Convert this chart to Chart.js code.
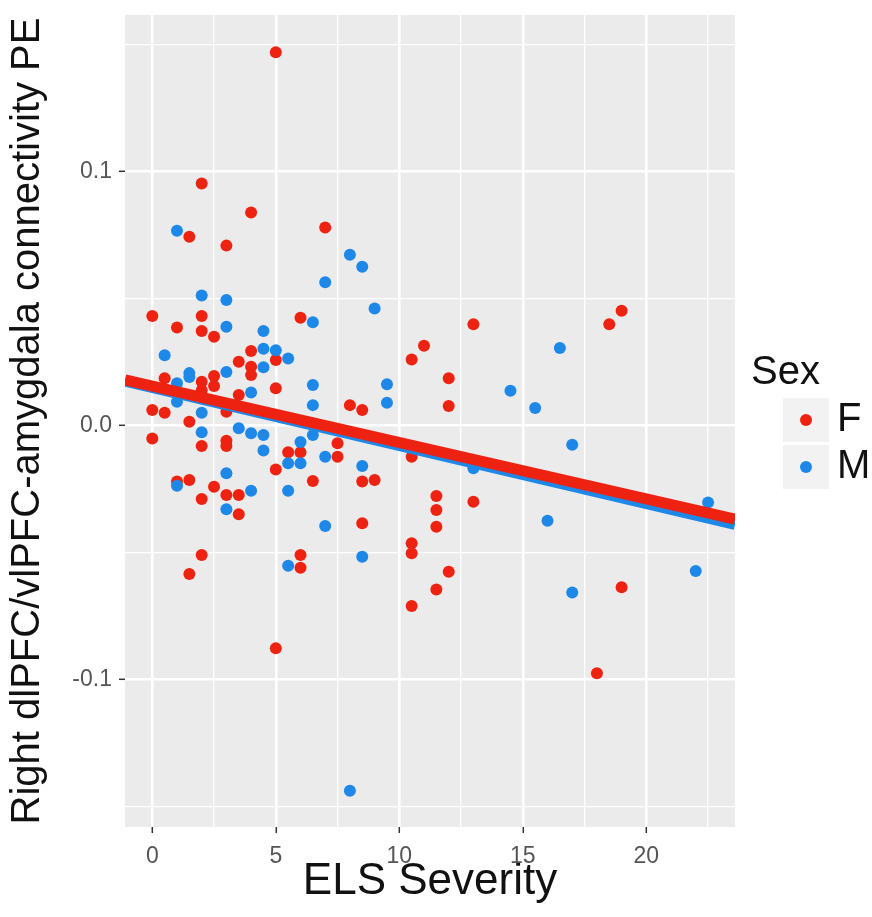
<!DOCTYPE html>
<html>
<head>
<meta charset="utf-8">
<script src="https://cdn.jsdelivr.net/npm/chart.js@4"></script>
<style>
  html, body { margin: 0; padding: 0; background: #fff; }
  #wrap { width: 872px; height: 917px; position: relative; }
</style>
</head>
<body>
<div id="wrap"><canvas id="els"></canvas></div>
<script>
// ELS severity (x) vs connectivity PE (y), female
const femaleX = [5, 2, 4, 1.5, 3, 7, 0, 2, 1, 2, 2.5, 6, 4, 3.5, 5, 4, 4, 2.5, 0.5, 2,
  2.5, 2, 3.5, 5, 8, 8.5, 10.5, 11, 12, 12, 13, 18.5, 19, 0, 0.5, 1.5, 3, 0, 2, 3,
  3, 5.5, 6, 7.5, 7.5, 5, 6.5, 8.5, 9, 1, 1.5, 2.5, 2, 3, 3.5, 3.5, 8.5, 2, 1.5, 6,
  6, 10.5, 11.5, 11.5, 11.5, 13, 10.5, 10.5, 12, 11.5, 10.5, 19, 18, 5];
const femaleY = [0.147, 0.0954, 0.0839, 0.0744, 0.0709, 0.078, 0.0432, 0.0432, 0.0387, 0.0373,
  0.035, 0.0425, 0.0294, 0.0252, 0.0259, 0.0232, 0.02, 0.0196, 0.0187, 0.0173,
  0.0156, 0.014, 0.0121, 0.0147, 0.0081, 0.0062, 0.0261, 0.0315, 0.0187, 0.0078,
  0.0399, 0.0399, 0.0453, 0.0062, 0.0051, 0.0016, 0.0055, -0.005, -0.008, -0.0059,
  -0.008, -0.0105, -0.0105, -0.0069, -0.0122, -0.0172, -0.0218, -0.022, -0.0214, -0.022,
  -0.0214, -0.024, -0.0289, -0.0273, -0.0273, -0.0349, -0.0384, -0.0509, -0.0584, -0.0509,
  -0.0559, -0.0122, -0.0277, -0.0332, -0.0398, -0.0299, -0.0463, -0.0502, -0.0575, -0.0645,
  -0.071, -0.0636, -0.0975, -0.0876];

// male
const maleX = [1, 8, 8.5, 7, 2, 3, 9, 6.5, 3, 4.5, 4.5, 5, 0.5, 5.5, 4.5, 3, 1.5, 1.5, 1, 6.5,
  9.5, 4, 1, 6.5, 9.5, 2, 16.5, 14.5, 15.5, 3.5, 2, 4, 4.5, 6.5, 6, 4.5, 7, 5.5, 6, 8.5,
  13, 17, 3, 1, 4, 5.5, 3, 7, 5.5, 8.5, 16, 22.5, 17, 22, 8];
const maleY = [0.0768, 0.0673, 0.0626, 0.0565, 0.0513, 0.0495, 0.0461, 0.0407, 0.039, 0.0373,
  0.0303, 0.0297, 0.0277, 0.0265, 0.023, 0.0211, 0.0207, 0.0192, 0.0167, 0.016,
  0.0163, 0.0131, 0.0094, 0.0081, 0.009, 0.0051, 0.0306, 0.0138, 0.007, -0.001,
  -0.0026, -0.003, -0.0037, -0.0037, -0.0064, -0.0098, -0.0122, -0.0148, -0.0148, -0.0159,
  -0.0168, -0.0075, -0.0187, -0.0236, -0.0256, -0.0256, -0.0329, -0.0395, -0.0551, -0.0516,
  -0.0374, -0.0302, -0.0657, -0.0572, -0.1437];

// fitted lines (ends read at the panel edges)
const fitX = [-1.105, 23.59];
const fitF = [0.0180, -0.0368];
const fitM = [0.0176, -0.0389];

const xMajor = [0, 5, 10, 15, 20];
const xMinor = [2.5, 7.5, 12.5, 17.5, 22.5];
const yMajor = [-0.1, 0, 0.1];
const yMinor = [-0.15, -0.05, 0.05, 0.15];
const sexLabels = ['F', 'M'];

const RED = '#EE2211';
const BLUE = '#1E88E8';
const FONT = '"Liberation Sans", Arial, Helvetica, sans-serif';

const toPts = (xs, ys) => xs.map((x, i) => ({ x: x, y: ys[i] }));

const panelBg = {
  id: 'panelBg',
  beforeDraw(chart) {
    const { ctx, chartArea: a } = chart;
    ctx.save();
    ctx.fillStyle = '#EBEBEB';
    ctx.fillRect(a.left, a.top, a.right - a.left, a.bottom - a.top);
    ctx.restore();
  }
};

// ggplot-style legend at the right
const sexLegend = {
  id: 'sexLegend',
  afterDraw(chart) {
    const ctx = chart.ctx;
    const cols = [RED, BLUE];
    ctx.save();
    ctx.font = '40px ' + FONT;
    ctx.textBaseline = 'middle';
    ctx.fillStyle = '#111';
    ctx.fillText('Sex', 751, 373);
    sexLabels.forEach((lab, i) => {
      const y = 398 + i * 47;
      ctx.fillStyle = '#F2F2F2';
      ctx.fillRect(783, y, 46, 44);
      ctx.fillStyle = cols[i];
      ctx.beginPath();
      ctx.arc(806, y + 22, 6, 0, Math.PI * 2);
      ctx.fill();
      ctx.fillStyle = '#111';
      ctx.fillText(lab, 837, y + 22);
    });
    ctx.restore();
  }
};

const gridFor = (major) => ({
  color: '#FFFFFF',
  lineWidth: c => (c.tick && major.includes(c.tick.value)) ? 2.6 : 1.3,
  tickColor: c => (c.tick && major.includes(c.tick.value)) ? '#333333' : 'rgba(0,0,0,0)',
  tickLength: 6,
  tickWidth: 1.5
});

// lower "order" is drawn on top: F fit, M fit, then M points, F points
new Chart(document.getElementById('els'), {
  type: 'scatter',
  data: {
    datasets: [
      { label: 'F', order: 4, data: toPts(femaleX, femaleY), backgroundColor: RED, borderWidth: 0, pointRadius: 6 },
      { label: 'M', order: 3, data: toPts(maleX, maleY), backgroundColor: BLUE, borderWidth: 0, pointRadius: 6 },
      { type: 'line', label: 'M fit', order: 2, data: toPts(fitX, fitM), borderColor: BLUE, borderWidth: 11,
        pointRadius: 0, fill: false, borderCapStyle: 'butt' },
      { type: 'line', label: 'F fit', order: 1, data: toPts(fitX, fitF), borderColor: RED, borderWidth: 11,
        pointRadius: 0, fill: false, borderCapStyle: 'butt' }
    ]
  },
  options: {
    responsive: true,
    maintainAspectRatio: false,
    animation: false,
    layout: { padding: { left: 0, top: 15, right: 137, bottom: 0 } },
    plugins: { legend: { display: false }, tooltip: { enabled: false } },
    scales: {
      x: {
        type: 'linear', min: -1.105, max: 23.59,
        afterBuildTicks: s => { s.ticks = xMajor.concat(xMinor).sort((a, b) => a - b).map(v => ({ value: v })); },
        afterFit: s => { s.height = 90; s.paddingLeft = 0; s.paddingRight = 0; },
        grid: gridFor(xMajor),
        border: { display: false },
        ticks: {
          autoSkip: false, maxRotation: 0, padding: 10, color: '#555555',
          font: { size: 23, family: FONT },
          callback: v => xMajor.includes(v) ? String(v) : ''
        },
        title: { display: true, text: 'ELS Severity', color: '#111', font: { size: 44, family: FONT },
          padding: { top: 0, bottom: 9 } }
      },
      y: {
        type: 'linear', min: -0.158, max: 0.1617,
        afterBuildTicks: s => { s.ticks = yMajor.concat(yMinor).sort((a, b) => a - b).map(v => ({ value: v })); },
        afterFit: s => { s.width = 125; s.paddingTop = 0; s.paddingBottom = 0; },
        grid: gridFor(yMajor),
        border: { display: false },
        ticks: {
          autoSkip: false, padding: 7, color: '#555555',
          font: { size: 23, family: FONT },
          callback: v => yMajor.includes(v) ? v.toFixed(1) : ''
        },
        title: { display: true, text: 'Right dlPFC/vlPFC-amygdala connectivity PE', color: '#111',
          font: { size: 40, family: FONT }, padding: { top: 4, bottom: 0 } }
      }
    }
  },
  plugins: [panelBg, sexLegend]
});
</script>
</body>
</html>
